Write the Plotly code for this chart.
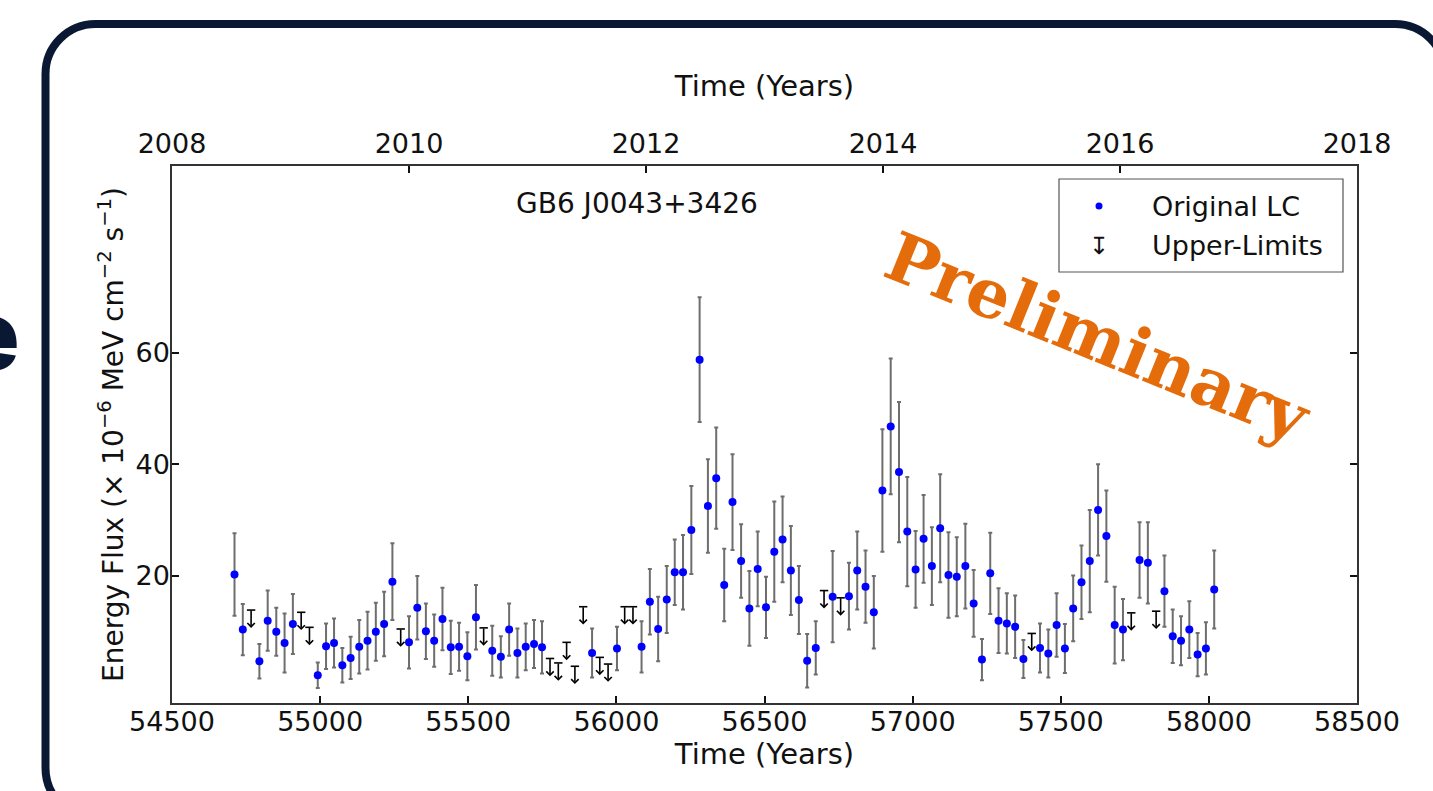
import plotly.graph_objects as go

# ---------------- data ----------------
mjd = [54711, 54739, 54795, 54823, 54852, 54880, 54908, 54992, 55020, 55047,
       55075, 55103, 55132, 55160, 55188, 55216, 55244, 55300, 55328, 55357,
       55385, 55413, 55441, 55469, 55497, 55526, 55581, 55610, 55638, 55666,
       55694, 55722, 55749, 55918, 56002, 56085, 56113, 56141, 56170, 56197,
       56225, 56253, 56281, 56309, 56337, 56364, 56392, 56421, 56449, 56477,
       56505, 56533, 56561, 56589, 56616, 56644, 56673, 56730, 56785, 56813,
       56841, 56869, 56898, 56926, 56954, 56982, 57010, 57037, 57065, 57093,
       57121, 57149, 57178, 57206, 57234, 57262, 57290, 57318, 57346, 57374,
       57430, 57458, 57486, 57514, 57542, 57570, 57598, 57626, 57654, 57682,
       57710, 57766, 57794, 57850, 57878, 57906, 57934, 57962, 57990, 58018]

flux = [20.2, 10.3, 4.6, 11.9, 9.9, 7.9, 11.3, 2.1, 7.3, 7.9,
        3.9, 5.2, 7.2, 8.3, 9.9, 11.3, 18.9, 8.0, 14.2, 10.0,
        8.3, 12.2, 7.1, 7.2, 5.5, 12.5, 6.5, 5.4, 10.3, 6.1,
        7.2, 7.7, 7.1, 6.1, 6.9, 7.2, 15.3, 10.4, 15.7, 20.6,
        20.6, 28.2, 58.8, 32.5, 37.5, 18.3, 33.2, 22.6, 14.1, 21.2,
        14.3, 24.3, 26.5, 20.9, 15.6, 4.7, 7.0, 16.2, 16.3, 20.9,
        18.0, 13.4, 35.3, 46.8, 38.6, 27.9, 21.1, 26.6, 21.7, 28.5,
        20.1, 19.8, 21.7, 15.0, 4.9, 20.4, 11.9, 11.4, 10.8, 5.0,
        7.0, 6.0, 11.1, 6.9, 14.1, 18.8, 22.6, 31.8, 27.1, 11.1,
        10.3, 22.8, 22.3, 17.2, 9.1, 8.3, 10.3, 5.8, 6.9, 17.5]

flux_err = [7.4, 4.6, 3.1, 5.4, 4.3, 5.3, 5.4, 2.3, 4.1, 4.4,
            3.1, 3.8, 4.8, 5.2, 5.2, 5.8, 6.9, 4.7, 5.7, 5.0,
            4.7, 5.6, 4.8, 4.3, 4.3, 5.8, 4.5, 3.7, 4.7, 4.4,
            4.2, 4.3, 4.7, 4.4, 3.9, 4.6, 5.9, 5.8, 6.0, 5.9,
            6.7, 7.9, 11.2, 8.4, 9.1, 6.5, 8.6, 6.6, 6.7, 6.7,
            5.5, 9.0, 7.7, 8.0, 6.1, 4.8, 4.8, 8.2, 6.0, 7.0,
            6.5, 6.5, 11.0, 12.2, 12.6, 9.8, 6.9, 7.9, 7.0, 9.7,
            7.7, 7.1, 7.6, 6.0, 3.7, 7.3, 5.8, 5.4, 5.6, 3.4,
            4.4, 4.3, 5.7, 4.4, 5.9, 6.6, 9.2, 8.2, 8.2, 6.9,
            5.5, 6.8, 7.3, 6.4, 4.8, 4.4, 5.1, 3.9, 4.7, 7.0]

ul_mjd = [54767, 54936, 54964, 55272, 55552, 55776, 55804, 55832, 55860, 55888,
          55944, 55972, 56028, 56056, 56701, 56757, 57402, 57738, 57822]
ul_flux = [13.8, 13.4, 10.7, 10.4, 10.6, 5.1, 4.3, 8.0, 3.7, 14.4,
           5.3, 4.1, 14.4, 14.4, 17.3, 16.0, 9.6, 13.3, 13.6]

x_ticks = [54500, 55000, 55500, 56000, 56500, 57000, 57500, 58000, 58500]
year_ticks = [2008, 2010, 2012, 2014, 2016, 2018]
y_ticks = [20, 40, 60]

source_name = "GB6 J0043+3426"
legend_labels = ["Original LC", "Upper-Limits"]

# ---------------- style ----------------
W, H = 1433, 791
ML, MR, MT, MB = 172, 76, 166, 88
PW, PH = W - ML - MR, H - MT - MB
UL_ARROW = 3.2          # length of upper-limit arrows (data units)
FONT = "DejaVu Sans"
NAVY = "#0b1833"
TXT = "#111111"


def px(X):
    return (X - ML) / PW


def py(Y):
    return (H - MB - Y) / PH


fig = go.Figure()

fig.add_trace(go.Scatter(
    x=mjd, y=flux, mode="markers", name=legend_labels[0], showlegend=False,
    marker=dict(color="#0000ff", size=8),
    error_y=dict(type="data", array=flux_err, color="#6e6e6e",
                 thickness=2, width=2),
))

# caps of the upper limits
fig.add_trace(go.Scatter(
    x=ul_mjd, y=ul_flux, mode="markers", name=legend_labels[1], showlegend=False,
    marker=dict(symbol="line-ew", size=6, color="black",
                line=dict(color="black", width=1.6)),
))

# empty trace to activate the top (years) axis
fig.add_trace(go.Scatter(x=[year_ticks[0], year_ticks[-1]], y=[None, None],
                         xaxis="x2", yaxis="y", showlegend=False,
                         hoverinfo="skip", mode="markers"))

annotations = []
for xv, yv in zip(ul_mjd, ul_flux):
    annotations.append(dict(
        x=xv, y=yv - UL_ARROW, ax=xv, ay=yv,
        xref="x", yref="y", axref="x", ayref="y",
        text="", showarrow=True, arrowhead=4, arrowsize=0.9,
        arrowwidth=1.6, arrowcolor="black", standoff=0, startstandoff=0,
        font=dict(size=1), borderpad=0,
    ))

# source name
annotations.append(dict(
    xref="paper", yref="paper", x=px(637), y=py(203), text=source_name,
    showarrow=False, font=dict(family=FONT, size=28, color=TXT),
    xanchor="center", yanchor="middle"))

# legend (drawn by hand)
annotations.append(dict(
    xref="paper", yref="paper", x=px(1150), y=py(206), text=legend_labels[0],
    showarrow=False, font=dict(family=FONT, size=27, color=TXT),
    xanchor="left", yanchor="middle"))
annotations.append(dict(
    xref="paper", yref="paper", x=px(1150), y=py(245), text=legend_labels[1],
    showarrow=False, font=dict(family=FONT, size=27, color=TXT),
    xanchor="left", yanchor="middle"))
annotations.append(dict(
    xref="paper", yref="paper", x=px(1099), y=py(246), text="↧",
    showarrow=False, font=dict(family=FONT, size=24, color=TXT),
    xanchor="center", yanchor="middle"))

# watermark
annotations.append(dict(
    xref="paper", yref="paper", x=px(1098), y=py(337), text="<b>Preliminary</b>",
    showarrow=False, textangle=22,
    font=dict(family="DejaVu Serif", size=68, color="#e46c0a"),
    xanchor="center", yanchor="middle"))

# partial slide letter at the left edge
annotations.append(dict(
    xref="paper", yref="paper", x=px(21), y=py(334), text="e",
    showarrow=False, font=dict(family="Inter", size=98, color=NAVY, weight=900),
    xanchor="right", yanchor="middle"))

# rounded slide frame (in pixels, converted to paper)
L, T, R, B, r = 45.5, 24, 1445, 818, 50
k = 0.4477 * r
path = (
    f"M {px(L)},{py(T + r)} "
    f"C {px(L)},{py(T + k)} {px(L + k)},{py(T)} {px(L + r)},{py(T)} "
    f"L {px(R - r)},{py(T)} "
    f"C {px(R - k)},{py(T)} {px(R)},{py(T + k)} {px(R)},{py(T + r)} "
    f"L {px(R)},{py(B - r)} "
    f"C {px(R)},{py(B - k)} {px(R - k)},{py(B)} {px(R - r)},{py(B)} "
    f"L {px(L + r)},{py(B)} "
    f"C {px(L + k)},{py(B)} {px(L)},{py(B - k)} {px(L)},{py(B - r)} Z"
)

shapes = [
    dict(type="path", xref="paper", yref="paper", path=path,
         line=dict(color=NAVY, width=8), fillcolor="rgba(0,0,0,0)"),
    dict(type="rect", xref="paper", yref="paper",
         x0=px(1059), x1=px(1343), y0=py(179), y1=py(272),
         line=dict(color="#555", width=1.2), fillcolor="white", layer="below"),
    dict(type="circle", xref="paper", yref="paper",
         x0=px(1095.5), x1=px(1102.5), y0=py(202.5), y1=py(209.5),
         line=dict(color="#0000ff", width=0), fillcolor="#0000ff"),
]

axis_common = dict(
    showgrid=False, zeroline=False, ticks="inside", ticklen=7, tickwidth=1.5,
    tickcolor="#111", showline=True, linecolor="#333", linewidth=1.5,
    tickfont=dict(family=FONT, size=27, color=TXT),
)

fig.update_layout(
    width=W, height=H,
    margin=dict(l=ML, r=MR, t=MT, b=MB),
    paper_bgcolor="white", plot_bgcolor="white",
    showlegend=False,
    xaxis=dict(range=[x_ticks[0], x_ticks[-1]], tickvals=x_ticks,
               tickformat="d", mirror=True, ticklabelstandoff=-6,
               title=dict(text="Time (Years)", standoff=4,
                          font=dict(family=FONT, size=29, color=TXT)),
               **axis_common),
    xaxis2=dict(range=[year_ticks[0], year_ticks[-1]], tickvals=year_ticks,
                overlaying="x", side="top", anchor="y",
                title=dict(text="Time (Years)", standoff=23,
                           font=dict(family=FONT, size=29, color=TXT)),
                **axis_common),
    yaxis=dict(range=[-2.9, 93.6], tickvals=y_ticks, mirror="ticks",
               ticklabelstandoff=-5,
               title=dict(text="Energy Flux (× 10<sup>−6</sup> MeV cm<sup>−2</sup> s<sup>−1</sup>)",
                          standoff=4,
                          font=dict(family=FONT, size=28, color=TXT)),
               **axis_common),
    annotations=annotations,
    shapes=shapes,
)

fig.write_html("out.html", config={"displayModeBar": False},
               post_script="document.body.style.margin='0px';document.body.style.overflow='hidden';")
